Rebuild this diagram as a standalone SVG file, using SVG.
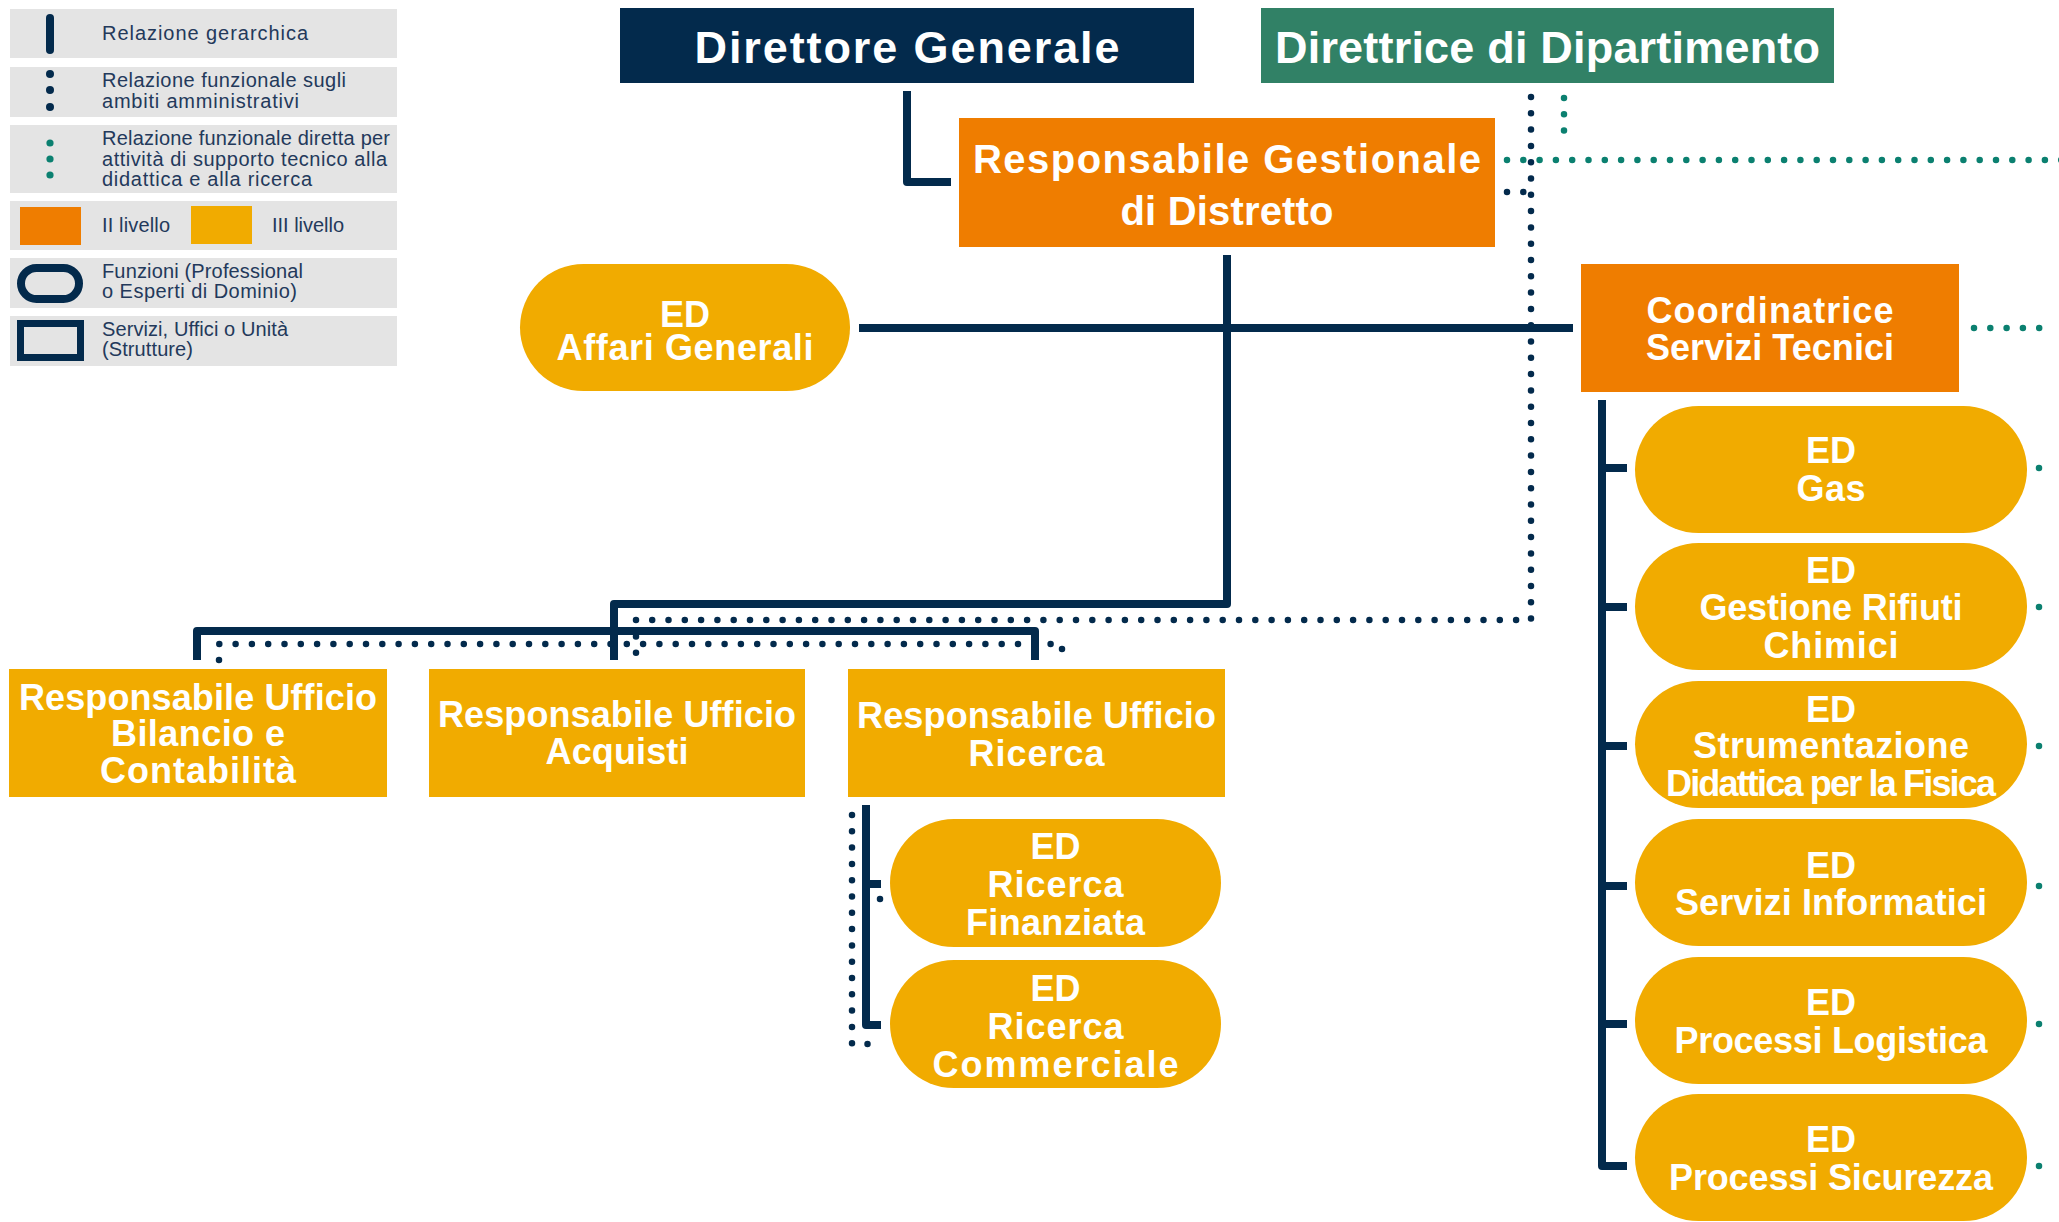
<svg xmlns="http://www.w3.org/2000/svg" width="2059" height="1222" viewBox="0 0 2059 1222">
<style>
.lg{fill:#e4e4e4}
.lt{font-family:"Liberation Sans",Arial,sans-serif;font-size:20px;fill:#23395b}
.t{font-family:"Liberation Sans",Arial,sans-serif;font-weight:bold;fill:#ffffff;text-anchor:middle;font-size:36px}
.big{font-size:45px}
.mid{font-size:40px}
.navy{fill:#032a4c}
.green{fill:#318166}
.orange{fill:#ef7d00}
.yellow{fill:#f1ab00}
.solid{fill:none;stroke:#032a4c;stroke-width:8;stroke-linejoin:round}
.dot{fill:none;stroke:#032a4c;stroke-width:6.5;stroke-linecap:round;stroke-dasharray:0 16.3}
.tdot{fill:none;stroke:#0b8070;stroke-width:6.5;stroke-linecap:round;stroke-dasharray:0 16.3}
</style>
<rect width="2059" height="1222" fill="#ffffff"/>
<g id="legend">
<rect class="lg" x="10" y="9" width="387" height="49"/>
<rect class="lg" x="10" y="67" width="387" height="50"/>
<rect class="lg" x="10" y="125" width="387" height="68"/>
<rect class="lg" x="10" y="201" width="387" height="49"/>
<rect class="lg" x="10" y="258" width="387" height="50"/>
<rect class="lg" x="10" y="316" width="387" height="50"/>
<rect x="46" y="14" width="8" height="40" rx="4" fill="#032a4c"/>
<circle cx="50" cy="74" r="4" fill="#032a4c"/><circle cx="50" cy="90" r="4" fill="#032a4c"/><circle cx="50" cy="107" r="4" fill="#032a4c"/>
<circle cx="50" cy="143" r="3.6" fill="#0b8070"/><circle cx="50" cy="159" r="3.6" fill="#0b8070"/><circle cx="50" cy="175" r="3.6" fill="#0b8070"/>
<rect class="orange" x="20" y="207" width="61" height="38"/>
<rect class="yellow" x="191" y="206" width="61" height="38"/>
<rect x="21" y="268" width="58" height="31" rx="15.5" fill="none" stroke="#032a4c" stroke-width="8"/>
<rect x="20.5" y="323.5" width="60" height="34" fill="none" stroke="#032a4c" stroke-width="7"/>
<text class="lt" x="102" y="40" textLength="206">Relazione gerarchica</text>
<text class="lt" x="102" y="87" textLength="244">Relazione funzionale sugli</text>
<text class="lt" x="102" y="108" textLength="197">ambiti amministrativi</text>
<text class="lt" x="102" y="145" textLength="288">Relazione funzionale diretta per</text>
<text class="lt" x="102" y="166" textLength="285">attività di supporto tecnico alla</text>
<text class="lt" x="102" y="186" textLength="210">didattica e alla ricerca</text>
<text class="lt" x="102" y="232" textLength="68">II livello</text>
<text class="lt" x="272" y="232" textLength="72">III livello</text>
<text class="lt" x="102" y="278" textLength="201">Funzioni (Professional</text>
<text class="lt" x="102" y="298" textLength="195">o Esperti di Dominio)</text>
<text class="lt" x="102" y="336" textLength="186">Servizi, Uffici o Unità</text>
<text class="lt" x="102" y="356" textLength="91">(Strutture)</text>
</g>
<g id="connectors">
<path class="solid" d="M907,91 V182 H951" stroke-width="7"/>
<path class="solid" d="M1227,255 V604 H614 V660"/>
<path class="solid" d="M859,328 H1573"/>
<path class="solid" d="M197,660 V631 H1035 V660"/>
<path class="solid" d="M1602,400 V1166 H1627 M1602,468 H1627 M1602,607 H1627 M1602,746 H1627 M1602,886 H1627 M1602,1024 H1627"/>
<path class="solid" d="M866,805 V1025 H881 M866,884 H881"/>
<path class="dot" d="M1531,97 V620 H636 V660"/>
<path class="dot" d="M1507,192 H1531"/>
<path class="dot" d="M219,660 V644 H1062 V660"/>
<path class="dot" d="M852,815 V1044 H882"/>
<circle cx="880" cy="899" r="3.25" fill="#032a4c"/>
<path class="tdot" d="M1564,98 V131"/>
<path class="tdot" d="M1507,160 H2065"/>
<path class="tdot" d="M1974,328 H2040"/>
<g fill="#0b8070">
<circle cx="2039" cy="468" r="3.25"/><circle cx="2039" cy="607" r="3.25"/><circle cx="2039" cy="746" r="3.25"/>
<circle cx="2039" cy="886" r="3.25"/><circle cx="2039" cy="1024" r="3.25"/><circle cx="2039" cy="1166" r="3.25"/>
</g>
</g>
<g id="n-direttore-generale">
<rect class="navy" x="620" y="8" width="574" height="75"/>
<text class="t big" x="907" y="63" textLength="425">Direttore Generale</text>
</g>
<g id="n-direttrice-dipartimento">
<rect class="green" x="1261" y="8" width="573" height="75"/>
<text class="t big" x="1547.5" y="63" textLength="545">Direttrice di Dipartimento</text>
</g>
<g id="n-responsabile-gestionale">
<rect class="orange" x="959" y="118" width="536" height="129"/>
<text class="t mid" x="1227" y="173" textLength="508">Responsabile Gestionale</text>
<text class="t mid" x="1227" y="225" textLength="213">di Distretto</text>
</g>
<g id="n-affari-generali">
<rect class="yellow" x="520" y="264" width="330" height="127" rx="63.5"/>
<text class="t" x="685" y="327">ED</text>
<text class="t" x="685" y="360" textLength="257">Affari Generali</text>
</g>
<g id="n-coordinatrice">
<rect class="orange" x="1581" y="264" width="378" height="128"/>
<text class="t" x="1770" y="323" textLength="247">Coordinatrice</text>
<text class="t" x="1770" y="360" textLength="248">Servizi Tecnici</text>
</g>
<g id="n-bilancio">
<rect class="yellow" x="9" y="669" width="378" height="128"/>
<text class="t" x="198" y="710" textLength="358">Responsabile Ufficio</text>
<text class="t" x="198" y="746" textLength="174">Bilancio e</text>
<text class="t" x="198" y="783" textLength="196">Contabilità</text>
</g>
<g id="n-acquisti">
<rect class="yellow" x="429" y="669" width="376" height="128"/>
<text class="t" x="617" y="727" textLength="358">Responsabile Ufficio</text>
<text class="t" x="617" y="764" textLength="143">Acquisti</text>
</g>
<g id="n-ricerca">
<rect class="yellow" x="848" y="669" width="377" height="128"/>
<text class="t" x="1036.5" y="728" textLength="359">Responsabile Ufficio</text>
<text class="t" x="1036.5" y="766" textLength="136">Ricerca</text>
</g>
<g id="n-ricerca-finanziata">
<rect class="yellow" x="890" y="819" width="331" height="128" rx="64"/>
<text class="t" x="1055.5" y="859">ED</text>
<text class="t" x="1055.5" y="897" textLength="136">Ricerca</text>
<text class="t" x="1055.5" y="935" textLength="179">Finanziata</text>
</g>
<g id="n-ricerca-commerciale">
<rect class="yellow" x="890" y="960" width="331" height="128" rx="64"/>
<text class="t" x="1055.5" y="1001">ED</text>
<text class="t" x="1055.5" y="1039" textLength="136">Ricerca</text>
<text class="t" x="1055.5" y="1077" textLength="246">Commerciale</text>
</g>
<g id="n-gas">
<rect class="yellow" x="1635" y="406" width="392" height="127" rx="63.5"/>
<text class="t" x="1831" y="463">ED</text>
<text class="t" x="1831" y="501" textLength="69">Gas</text>
</g>
<g id="n-rifiuti">
<rect class="yellow" x="1635" y="543" width="392" height="127" rx="63.5"/>
<text class="t" x="1831" y="583">ED</text>
<text class="t" x="1831" y="620" textLength="263">Gestione Rifiuti</text>
<text class="t" x="1831" y="658" textLength="135">Chimici</text>
</g>
<g id="n-strumentazione">
<rect class="yellow" x="1635" y="681" width="392" height="127" rx="63.5"/>
<text class="t" x="1831" y="722">ED</text>
<text class="t" x="1831" y="758" textLength="276">Strumentazione</text>
<text class="t" x="1831" y="796" textLength="330">Didattica per la Fisica</text>
</g>
<g id="n-informatici">
<rect class="yellow" x="1635" y="819" width="392" height="127" rx="63.5"/>
<text class="t" x="1831" y="878">ED</text>
<text class="t" x="1831" y="915" textLength="312">Servizi Informatici</text>
</g>
<g id="n-logistica">
<rect class="yellow" x="1635" y="957" width="392" height="127" rx="63.5"/>
<text class="t" x="1831" y="1015">ED</text>
<text class="t" x="1831" y="1053" textLength="313">Processi Logistica</text>
</g>
<g id="n-sicurezza">
<rect class="yellow" x="1635" y="1094" width="392" height="127" rx="63.5"/>
<text class="t" x="1831" y="1152">ED</text>
<text class="t" x="1831" y="1190" textLength="324">Processi Sicurezza</text>
</g>
</svg>
